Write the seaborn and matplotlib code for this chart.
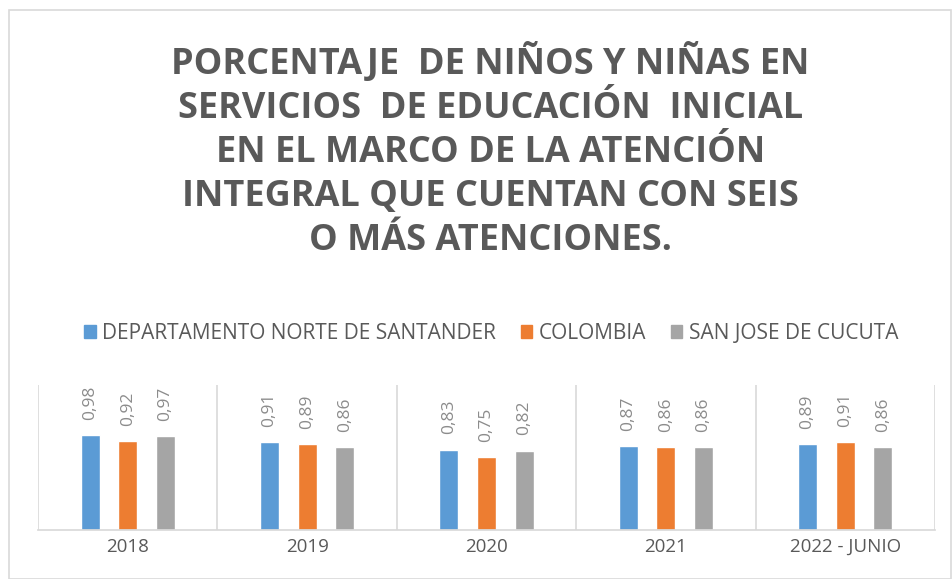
import pandas as pd
import matplotlib.pyplot as plt
import seaborn as sns
from matplotlib.patches import Rectangle

sns.set_theme(style="white")
plt.rcParams["font.family"] = ["Open Sans", "DejaVu Sans"]

# datos
years = ["2018", "2019", "2020", "2021", "2022 - JUNIO"]
norte_santander = [0.98, 0.91, 0.83, 0.87, 0.89]
colombia = [0.92, 0.89, 0.75, 0.86, 0.91]
cucuta = [0.97, 0.86, 0.82, 0.86, 0.86]
series_names = ["DEPARTAMENTO NORTE DE SANTANDER", "COLOMBIA", "SAN JOSE DE CUCUTA"]

title = ("PORCENTAJE  DE NIÑOS Y NIÑAS EN\n"
         "SERVICIOS  DE EDUCACIÓN  INICIAL\n"
         "EN EL MARCO DE LA ATENCIÓN\n"
         "INTEGRAL QUE CUENTAN CON SEIS\n"
         "O MÁS ATENCIONES.")

df = pd.DataFrame({
    "year": years * 3,
    "serie": [series_names[0]] * 5 + [series_names[1]] * 5 + [series_names[2]] * 5,
    "valor": norte_santander + colombia + cucuta,
})

colors = ["#5B9BD5", "#ED7D31", "#A5A5A5"]
text_gray = "#595959"

fig = plt.figure(figsize=(9.52, 5.79), dpi=100)
ax = fig.add_axes([0.040, 0.085, 0.942, 0.25])

sns.barplot(data=df, x="year", y="valor", hue="serie", palette=colors,
            width=0.63, gap=0.5, saturation=1, ax=ax, legend=False)

for cont in ax.containers:
    ax.bar_label(cont, labels=[f"{v:.2f}".replace(".", ",") for v in cont.datavalues],
                 rotation=90, padding=11, fontsize=12.5, color="#8C8C8C")

ax.set_ylim(0, 1.5)
ax.set_xlim(-0.5, len(years) - 0.5)
for i in range(len(years) + 1):
    ax.axvline(i - 0.5, color="#D9D9D9", lw=1.2, zorder=0)

ax.set_yticks([])
ax.set_xlabel("")
ax.set_ylabel("")
for s in ["top", "left", "right"]:
    ax.spines[s].set_visible(False)
ax.spines["bottom"].set_color("#D9D9D9")
ax.tick_params(axis="x", length=0, pad=6, labelsize=13.5, labelcolor=text_gray)

# leyenda
handles = [Rectangle((0, 0), 1, 1, color=c) for c in colors]
fig.legend(handles, series_names, loc="center", bbox_to_anchor=(0.516, 0.424),
           ncol=3, frameon=False, fontsize=15, labelcolor=text_gray,
           handlelength=0.55, handleheight=0.55, handletextpad=0.3, columnspacing=1.2)

fig.text(0.515, 0.739, title, ha="center", va="center", fontsize=26, fontweight="bold",
         color=text_gray, linespacing=1.29)

fig.patches.append(Rectangle((0.009, 0.0), 0.99, 0.982, transform=fig.transFigure,
                             fill=False, edgecolor="#D9D9D9", lw=1.2))

fig.savefig("out.png", dpi=100)
